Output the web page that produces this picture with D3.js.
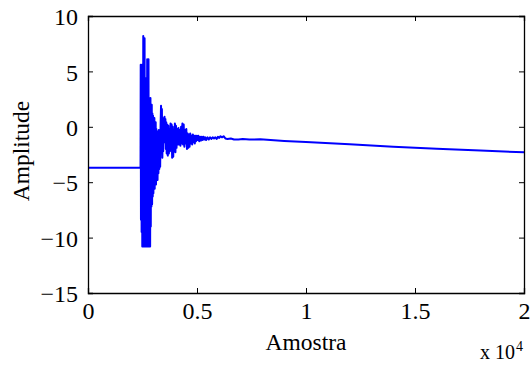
<!DOCTYPE html>
<html>
<head>
<meta charset="utf-8">
<script src="https://cdn.jsdelivr.net/npm/d3@7"></script>
<style>
  html, body { margin: 0; padding: 0; background: #fff; }
  svg { display: block; }
</style>
</head>
<body>
<div id="chart"></div>
<script>
// sample index and amplitude
const samples = [
  0, 2410, 2418, 2430, 2445, 2460, 2475, 2490, 2505, 2520, 2535, 2550, 2565, 2580,
  2595, 2610, 2625, 2640, 2655, 2670, 2685, 2700, 2715, 2730, 2745, 2760, 2775, 2790,
  2805, 2820, 2835, 2850, 2865, 2880, 2895, 2910, 2925, 2940, 2955, 2970, 2985, 3000,
  3015, 3030, 3045, 3060, 3075, 3090, 3105, 3120, 3135, 3150, 3170, 3190, 3210, 3230,
  3250, 3270, 3290, 3310, 3330, 3350, 3370, 3390, 3410, 3430, 3450, 3470, 3490, 3510,
  3530, 3550, 3570, 3590, 3610, 3635, 3660, 3685, 3710, 3735, 3760, 3785, 3810, 3835,
  3860, 3885, 3910, 3935, 3960, 3985, 4010, 4035, 4060, 4090, 4120, 4150, 4180, 4210,
  4240, 4270, 4300, 4330, 4360, 4390, 4420, 4450, 4480, 4510, 4540, 4570, 4600, 4630,
  4660, 4690, 4720, 4750, 4780, 4810, 4840, 4870, 4900, 4930, 4960, 4990, 5020, 5060,
  5100, 5140, 5180, 5220, 5260, 5300, 5340, 5380, 5420, 5480, 5540, 5600, 5660, 5720,
  5780, 5840, 5900, 5960, 6020, 6080, 6150, 6220, 6300, 6400, 6550, 6700, 6900, 7100,
  7400, 7900, 9000, 10000, 12000, 14000, 16000, 18000, 20000
];
const amplitude = [
  -3.7, -3.7, 5.6, -8.4, 5.0, -9.5, 5.6, -10.8, 3.5, -10.8, 8.2, -10.8, 7.8, -10.8,
  8.0, -10.8, 4.4, -10.8, 4.2, -10.8, 4.4, -10.8, 6.1, -10.8, 5.9, -10.8, 6.1, -10.8,
  2.6, -10.8, 2.5, -10.8, 2.6, -9.0, 1.7, -7.2, 2.0, -7.0, 1.2, -6.3, 1.0, -6.0,
  0.6, -5.4, 0.8, -5.6, 0.2, -5.0, 0.4, -5.2, -0.2, -4.6, -0.4, -4.8, -0.6, -4.2,
  -0.3, -3.8, -0.8, -3.6, 0.2, 1.9, -1.0, 1.6, -2.8, 0.8, -2.2, 0.5, -1.4, 0.9,
  -1.0, 0.7, -2.0, 0.4, -2.4, 0.2, -2.6, 0.1, -2.4, -0.2, -2.2, 0.3, -2.0, 0.2,
  -2.8, 0.0, -2.7, -0.3, -2.2, 0.3, -2.3, 0.1, -1.9, -0.2, -1.6, -0.1, -1.6, -0.3,
  -1.7, 0.0, -1.5, 0.3, -1.6, 0.2, -1.8, -0.3, -1.5, -0.2, -2.0, -0.6, -1.9, -0.7,
  -1.8, -0.6, -1.5, -0.8, -1.6, -0.7, -1.4, -0.8, -1.5, -0.8, -1.3, -0.8, -1.2, -0.8,
  -1.3, -0.9, -1.25, -0.9, -1.2, -0.9, -1.15, -0.95, -1.2, -0.95, -1.15, -0.95, -1.1, -0.95,
  -1.05, -0.95, -1.1, -0.9, -1.0, -0.85, -0.95, -0.85, -1.05, -1.1, -1.05, -1.15, -1.15, -1.1,
  -1.15, -1.13, -1.28, -1.38, -1.58, -1.8, -1.98, -2.15, -2.3
];
const xTicks = [0, 5000, 10000, 15000, 20000];
const xTickLabels = ['0', '0.5', '1', '1.5', '2'];
const yTicks = [-15, -10, -5, 0, 5, 10];
const yTickLabels = ['\u221215', '\u221210', '\u22125', '0', '5', '10'];

const W = 530, H = 365;
const margin = { top: 16, right: 6, bottom: 72, left: 88 };
const width = W - margin.left - margin.right;
const height = H - margin.top - margin.bottom;
const serif = '"Liberation Serif", "Times New Roman", Times, serif';

const svg = d3.select('#chart').append('svg')
  .attr('width', W)
  .attr('height', H);

const g = svg.append('g')
  .attr('transform', `translate(${margin.left},${margin.top})`);

const x = d3.scaleLinear().domain([0, 20000]).range([0, width]);
const y = d3.scaleLinear().domain([-15, 10]).range([height, 0]);

const data = samples.map((s, i) => [s, amplitude[i]]);

g.append('path')
  .datum(data)
  .attr('fill', 'none')
  .attr('stroke', '#0000ff')
  .attr('stroke-width', 2)
  .attr('stroke-linejoin', 'round')
  .attr('d', d3.line().x(d => x(d[0])).y(d => y(d[1])));

// axes with inward ticks, mirrored on top/right like matlab
const fontSize = '24px';
const bottom = g.append('g')
  .attr('transform', `translate(0,${height})`)
  .call(d3.axisBottom(x).tickValues(xTicks).tickSize(-5).tickPadding(9)
    .tickFormat((d, i) => xTickLabels[i]));
bottom.selectAll('text').attr('dy', '0.72em');

g.append('g')
  .call(d3.axisTop(x).tickValues(xTicks).tickSize(-5).tickFormat(''));

const left = g.append('g')
  .call(d3.axisLeft(y).tickValues(yTicks).tickSize(-5).tickPadding(10)
    .tickFormat((d, i) => yTickLabels[i]));
left.selectAll('text').attr('dy', '0.36em');

g.append('g')
  .attr('transform', `translate(${width},0)`)
  .call(d3.axisRight(y).tickValues(yTicks).tickSize(-5).tickFormat(''));

g.selectAll('.tick text')
  .style('font-family', serif)
  .style('font-size', fontSize)
  .attr('fill', '#000');
g.selectAll('.domain').attr('stroke', '#000').attr('stroke-width', 1.3);
g.selectAll('.tick line').attr('stroke', '#000').attr('stroke-width', 1);

svg.append('text')
  .attr('x', margin.left + width / 2)
  .attr('y', 350)
  .attr('text-anchor', 'middle')
  .style('font-family', serif)
  .style('font-size', '23.5px')
  .text('Amostra');

svg.append('text')
  .attr('transform', `translate(29,151) rotate(-90)`)
  .attr('text-anchor', 'middle')
  .style('font-family', serif)
  .style('font-size', '23.5px')
  .text('Amplitude');

svg.append('text')
  .attr('x', 515)
  .attr('y', 359)
  .attr('text-anchor', 'end')
  .style('font-family', serif)
  .style('font-size', '20px')
  .text('x 10');
svg.append('text')
  .attr('x', 516)
  .attr('y', 351)
  .style('font-family', serif)
  .style('font-size', '14px')
  .text('4');
</script>
</body>
</html>
